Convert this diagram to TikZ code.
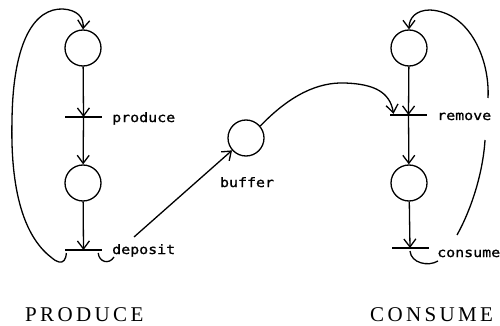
\documentclass[tikz,border=0pt]{standalone}
\usepackage{fontspec}
\setmainfont{Liberation Serif}
\newfontfamily\labfont[FakeStretch=1.15,FakeBold=1.2]{DejaVu Sans Mono}
\newfontfamily\capfont[LetterSpace=16]{Liberation Serif}
\usetikzlibrary{arrows.meta}
\begin{document}
\begin{tikzpicture}[x=1pt,y=-1pt,
 place/.style={draw,circle,minimum size=36pt,inner sep=0pt,line width=1.3pt},
 trans/.style={fill=black,minimum width=37pt,minimum height=2pt,inner sep=0pt},
 arc/.style={line width=1.3pt,-{Straight Barb[length=8pt,width=12pt,line width=1.3pt]}},
 wire/.style={line width=1.3pt},
 lab/.style={font=\labfont\fontsize{13}{15}\selectfont,inner sep=0pt},
 big/.style={font=\capfont\fontsize{21}{24}\selectfont,inner sep=0pt}]
\useasboundingbox (0,0) rectangle (500,326);
% places and transitions
\node[place] (p1) at (83,48) {};
\node[trans] (t1) at (83.5,117) {};
\node[place] (p2) at (83,183) {};
\node[trans] (t2) at (83.5,250) {};
\node[place] (buf) at (246,138) {};
\node[place] (c1) at (409,48) {};
\node[trans] (t3) at (408.5,115) {};
\node[place] (c2) at (409,183) {};
\node[trans] (t4) at (410,248) {};
% straight arcs
\draw[arc] (p1) -- (t1.center);
\draw[arc] (t1.center) -- (p2);
\draw[arc] (p2) -- (t2.center);
\draw[arc] (c1) -- (t3.center);
\draw[arc] (t3.center) -- (c2);
\draw[arc] (c2) -- (t4.center);
% left loop
\draw[arc] ([shift={(1.5,3)}]t2.west) .. controls (66,260) and (63,263) .. (59,262)
  .. controls (56,261) and (54,260) .. (52,258)
  .. controls (28,240) and (10,200) .. (12,120)
  .. controls (13,40) and (35,8) .. (63,9)
  .. controls (77,10) and (84,17) .. (p1.north);
% deposit to buffer
\coordinate (dl) at (134,237);
\draw[wire] ([shift={(-4,3)}]t2.east) .. controls (99,262) and (109,265) .. (114,257);
\draw[arc] (dl) -- (buf);
% buffer to remove
\draw[arc] (buf.40) .. controls (290,95) and (318,82) .. (345,83)
  .. controls (374,84) and (390,92) .. ([xshift=-15pt]t3.north);
% right loop
\coordinate (r1) at (457,235);
\coordinate (r2) at (485,140);
\coordinate (r3) at (488,98);
\draw[wire] ([shift={(0,3)}]t4.center) .. controls (411,263) and (428,267) .. (438,261);
\draw[wire] (r1) .. controls (472,208) and (483,172) .. (r2);
\draw[arc] (r3) .. controls (490,60) and (470,12) .. (430,10)
  .. controls (416,10) and (409,18) .. (c1.north);
% labels
\node[lab,anchor=base west] (lp) at (112,122) {produce};
\node[lab,anchor=base west] (ld) at (112,254) {deposit};
\node[lab,anchor=base] (lb) at (247,187) {buffer};
\node[lab,anchor=base west] (lr) at (437,120) {remove};
\node[lab,anchor=base west] (lc) at (437,257) {consume};
\node[big,anchor=base west] (PR) at (25,321) {PRODUCE};
\node[big,anchor=base west] (CO) at (370,321) {CONSUME};
\end{tikzpicture}
\end{document}
